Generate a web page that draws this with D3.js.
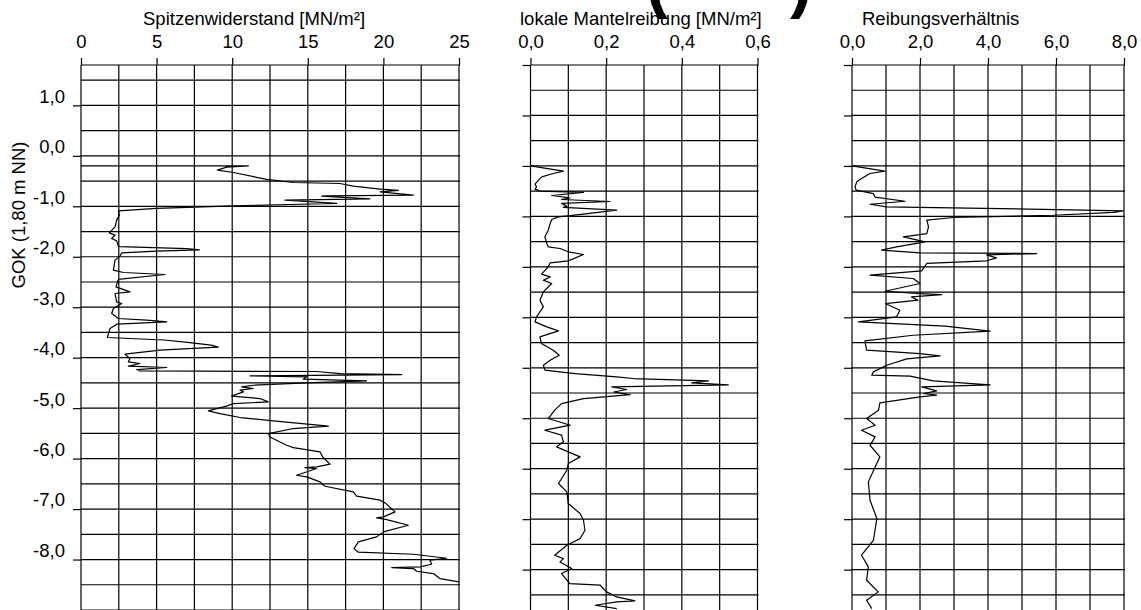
<!DOCTYPE html>
<html><head><meta charset="utf-8">
<script src="https://cdn.jsdelivr.net/npm/d3@7"></script>
<style>
body{margin:0;background:#fff}
svg{display:block}
text{font-family:"Liberation Sans",Arial,Helvetica,sans-serif;fill:#000}
</style>
</head><body>
<svg id="chart" width="1141" height="610"></svg>
<script>
// ---------------- data (depth in m NN) ----------------
const qcDepth=[-0.198,-0.198,-0.225,-0.283,-0.33,-0.468,-0.528,-0.548,-0.60,-0.66,-0.686,-0.713,-0.779,-0.792,-0.80,-0.852,-0.878,-0.944,-0.964,-0.99,-1.043,-1.09,-1.175,-1.274,-1.407,-1.526,-1.572,-1.638,-1.685,-1.79,-1.80,-1.837,-1.862,-1.889,-1.922,-1.988,-2.067,-2.266,-2.312,-2.352,-2.45,-2.596,-2.695,-2.728,-2.894,-2.927,-3.026,-3.125,-3.224,-3.257,-3.29,-3.336,-3.422,-3.6,-3.65,-3.70,-3.75,-3.79,-3.851,-3.931,-4.017,-4.083,-4.116,-4.169,-4.195,-4.235,-4.261,-4.274,-4.314,-4.334,-4.36,-4.38,-4.426,-4.459,-4.499,-4.546,-4.578,-4.611,-4.644,-4.677,-4.763,-4.810,-4.876,-4.909,-4.961,-5.008,-5.054,-5.107,-5.186,-5.252,-5.358,-5.404,-5.504,-5.57,-5.735,-5.781,-5.867,-5.966,-6.111,-6.164,-6.177,-6.197,-6.33,-6.362,-6.461,-6.547,-6.659,-6.745,-6.824,-6.877,-7.056,-7.155,-7.175,-7.208,-7.32,-7.452,-7.551,-7.650,-7.783,-7.855,-7.895,-7.974,-8.013,-8.093,-8.146,-8.159,-8.179,-8.232,-8.278,-8.377,-8.443];
const qcValue=[0,11.07,9.63,9.02,10.08,12.28,14.04,17.13,18.01,19.78,20.99,19.78,21.98,16.25,15.92,19.11,13.49,16.91,13.82,10.08,5.0,2.47,2.54,2.36,2.25,1.87,2.25,2.03,2.36,2.47,2.58,6.99,7.83,5.0,2.69,2.58,2.25,2.14,2.80,5.56,2.47,2.31,3.24,2.25,2.36,2.69,2.14,2.03,2.47,4.34,5.67,2.36,1.92,1.74,5.5,7.2,8.6,9.08,5.22,2.91,3.24,3.13,3.90,3.13,5.67,3.68,3.90,15.59,17.13,21.21,11.18,14.93,14.70,18.89,14.93,11.40,10.63,11.40,10.52,10.74,9.96,11.84,12.39,10.08,9.63,8.97,8.42,9.19,10.52,12.72,16.36,14.04,12.39,12.50,13.60,14.04,15.81,15.98,16.47,15.59,14.81,15.59,14.26,14.93,15.81,16.14,18.01,18.23,19.78,20.11,20.77,20.0,19.55,20.22,21.65,20.0,19.55,18.34,18.06,18.34,21.98,24.18,23.08,23.19,22.42,20.55,21.98,22.20,23.30,23.74,25.0];

const fsDepth=[-0.198,-0.303,-0.35,-0.416,-0.482,-0.561,-0.614,-0.66,-0.70,-0.726,-0.786,-0.832,-0.865,-0.905,-0.944,-0.997,-1.023,-1.076,-1.156,-1.209,-1.262,-1.34,-1.473,-1.605,-1.737,-1.803,-1.836,-1.902,-1.955,-2.081,-2.121,-2.2,-2.345,-2.398,-2.464,-2.53,-2.695,-2.86,-2.993,-3.19,-3.29,-3.389,-3.468,-3.587,-3.72,-3.852,-3.951,-4.05,-4.149,-4.248,-4.314,-4.38,-4.413,-4.46,-4.5,-4.538,-4.578,-4.631,-4.68,-4.731,-4.81,-4.909,-5.04,-5.206,-5.338,-5.437,-5.536,-5.668,-5.767,-5.966,-6.098,-6.23,-6.494,-6.66,-6.891,-7.089,-7.221,-7.419,-7.585,-7.717,-7.915,-7.981,-8.047,-8.179,-8.278,-8.476,-8.509,-8.641,-8.741,-8.82,-8.84,-8.906,-8.972];
const fsValue=[0,0.087,0.060,0.03,0.021,0.012,0.016,0.012,0.025,0.14,0.056,0.104,0.082,0.21,0.082,0.096,0.087,0.228,0.14,0.074,0.056,0.052,0.047,0.038,0.043,0.047,0.078,0.10,0.14,0.10,0.052,0.047,0.029,0.052,0.034,0.056,0.034,0.025,0.034,0.016,0.012,0.043,0.074,0.025,0.029,0.060,0.076,0.052,0.034,0.038,0.118,0.228,0.272,0.47,0.426,0.523,0.215,0.254,0.22,0.263,0.14,0.082,0.064,0.047,0.105,0.038,0.082,0.087,0.069,0.131,0.10,0.096,0.074,0.096,0.10,0.131,0.14,0.144,0.131,0.096,0.064,0.087,0.078,0.109,0.082,0.104,0.184,0.201,0.228,0.276,0.228,0.171,0.228];

const rfDepth=[-0.198,-0.304,-0.35,-0.449,-0.515,-0.614,-0.68,-0.713,-0.75,-0.82,-0.9,-0.959,-1.01,-1.04,-1.09,-1.12,-1.177,-1.222,-1.275,-1.407,-1.54,-1.605,-1.706,-1.803,-1.869,-1.922,-1.936,-1.962,-2.021,-2.08,-2.133,-2.279,-2.365,-2.431,-2.53,-2.683,-2.729,-2.749,-2.795,-2.861,-2.927,-3.059,-3.19,-3.29,-3.376,-3.475,-3.555,-3.667,-3.852,-3.918,-3.964,-4.023,-4.149,-4.281,-4.347,-4.367,-4.459,-4.538,-4.578,-4.657,-4.71,-4.743,-4.776,-4.895,-5.04,-5.206,-5.338,-5.437,-5.57,-5.735,-5.966,-6.164,-6.461,-6.824,-7.188,-7.618,-7.915,-8.146,-8.41,-8.641,-8.807,-8.972];
const rfValue=[0,0.97,0.53,0.28,0.14,0.09,0.12,0.38,0.63,0.68,1.56,0.53,1.02,3.9,7.98,7.7,5.92,2.98,2.2,2.25,2.2,1.51,2.15,1.31,0.87,2.0,5.43,3.96,4.25,3.96,2.2,2.05,0.53,1.8,2.0,0.97,2.0,2.64,1.75,1.94,0.98,1.41,1.31,0.19,2.74,4.06,1.8,0.38,0.43,2.0,2.59,1.61,1.02,0.63,0.58,1.71,2.39,4.06,2.05,2.49,2.11,2.49,2.0,0.82,0.78,0.43,0.68,0.28,0.68,0.53,0.82,0.68,0.48,0.53,0.73,0.63,0.28,0.48,0.43,0.77,0.43,0.58];

const panelTitles=["Spitzenwiderstand [MN/m²]","lokale Mantelreibung [MN/m²]","Reibungsverhältnis"];
const qcTicks=[0,5,10,15,20,25];
const fsTicks=[0,0.2,0.4,0.6];
const rfTicks=[0,2,4,6,8];
const nnTicks=[1,0,-1,-2,-3,-4,-5,-6,-7,-8];
const yTitle="GOK (1,80 m NN)";
const gok=1.8;

// ---------------- layout ----------------
const svg=d3.select("#chart");
const FS=18.5;
const y=d3.scaleLinear().domain([gok,-9.0]).range([65,610]);
const fmtInt=d=>String(d);
const fmtDec=d=>d.toFixed(1).replace(".",",");

const panels=[
  {title:panelTitles[0],titleX:143,depth:qcDepth,value:qcValue,domain:[0,25],range:[81,459],step:2.5,ticks:qcTicks,fmt:fmtInt,
   hLines:d3.range(0,22).map(k=>1.5-0.5*k).concat([gok]),hTicks:nnTicks,leftLabels:true},
  {title:panelTitles[1],titleX:520,depth:fsDepth,value:fsValue,domain:[0,0.6],range:[530.5,757.5],step:0.1,ticks:fsTicks,fmt:fmtDec,
   hLines:d3.range(0,22).map(k=>gok-0.5*k),hTicks:d3.range(0,11).map(k=>gok-k),leftLabels:false},
  {title:panelTitles[2],titleX:862,depth:rfDepth,value:rfValue,domain:[0,8],range:[852,1124],step:1,ticks:rfTicks,fmt:fmtDec,
   hLines:d3.range(0,22).map(k=>gok-0.5*k),hTicks:d3.range(0,11).map(k=>gok-k),leftLabels:false}
];

// large clipped title fragment at top (drawn first, behind the titles)
svg.append("text").attr("x",646).attr("y",5).attr("font-size",66).attr("font-weight","bold").text("(");
svg.append("text").attr("x",790).attr("y",5).attr("font-size",66).attr("font-weight","bold").text(")");

panels.forEach(p=>{
  const x=d3.scaleLinear().domain(p.domain).range(p.range);
  const g=svg.append("g");
  const nV=Math.round((p.domain[1]-p.domain[0])/p.step);
  const vVals=d3.range(0,nV+1).map(i=>p.domain[0]+i*p.step);
  g.selectAll("line.v").data(vVals).join("line")
    .attr("x1",d=>x(d)).attr("x2",d=>x(d)).attr("y1",y(gok)).attr("y2",610)
    .attr("stroke","#000").attr("stroke-width",1.2);
  g.selectAll("line.h").data(p.hLines.filter(d=>d>=-9.0)).join("line")
    .attr("x1",p.range[0]).attr("x2",p.range[1]+1).attr("y1",d=>y(d)).attr("y2",d=>y(d))
    .attr("stroke","#000").attr("stroke-width",1.2);
  const ax=d3.axisTop(x).tickValues(p.ticks).tickSize(7).tickPadding(10).tickFormat(p.fmt);
  const ga=g.append("g").attr("transform",`translate(0,${y(gok)})`).call(ax);
  ga.select(".domain").remove();
  ga.selectAll("line").attr("stroke","#000").attr("stroke-width",1.2);
  ga.selectAll("text").attr("font-size",FS).attr("font-family","Liberation Sans, Arial, sans-serif").attr("fill","#000");
  const ay=d3.axisLeft(y).tickValues(p.hTicks).tickSize(8).tickPadding(8)
    .tickFormat(p.leftLabels?fmtDec:()=> "");
  const gy=g.append("g").attr("transform",`translate(${p.range[0]},0)`).call(ay);
  gy.select(".domain").remove();
  gy.selectAll("line").attr("stroke","#000").attr("stroke-width",1.2);
  gy.selectAll("text").attr("font-size",FS).attr("dy","-0.17em").attr("font-family","Liberation Sans, Arial, sans-serif").attr("fill","#000");
  g.append("text").attr("x",p.titleX).attr("y",25).attr("font-size",FS).text(p.title);
  const pts=p.depth.map((d,i)=>[p.value[i],d]);
  const line=d3.line().x(d=>x(d[0])).y(d=>y(d[1]));
  g.append("path").datum(pts).attr("d",line).attr("fill","none").attr("stroke","#000").attr("stroke-width",1.2).attr("stroke-linejoin","round");
});

svg.append("text").attr("transform","translate(25,215) rotate(-90)").attr("text-anchor","middle")
  .attr("font-size",FS).text(yTitle);
</script>
</body></html>
